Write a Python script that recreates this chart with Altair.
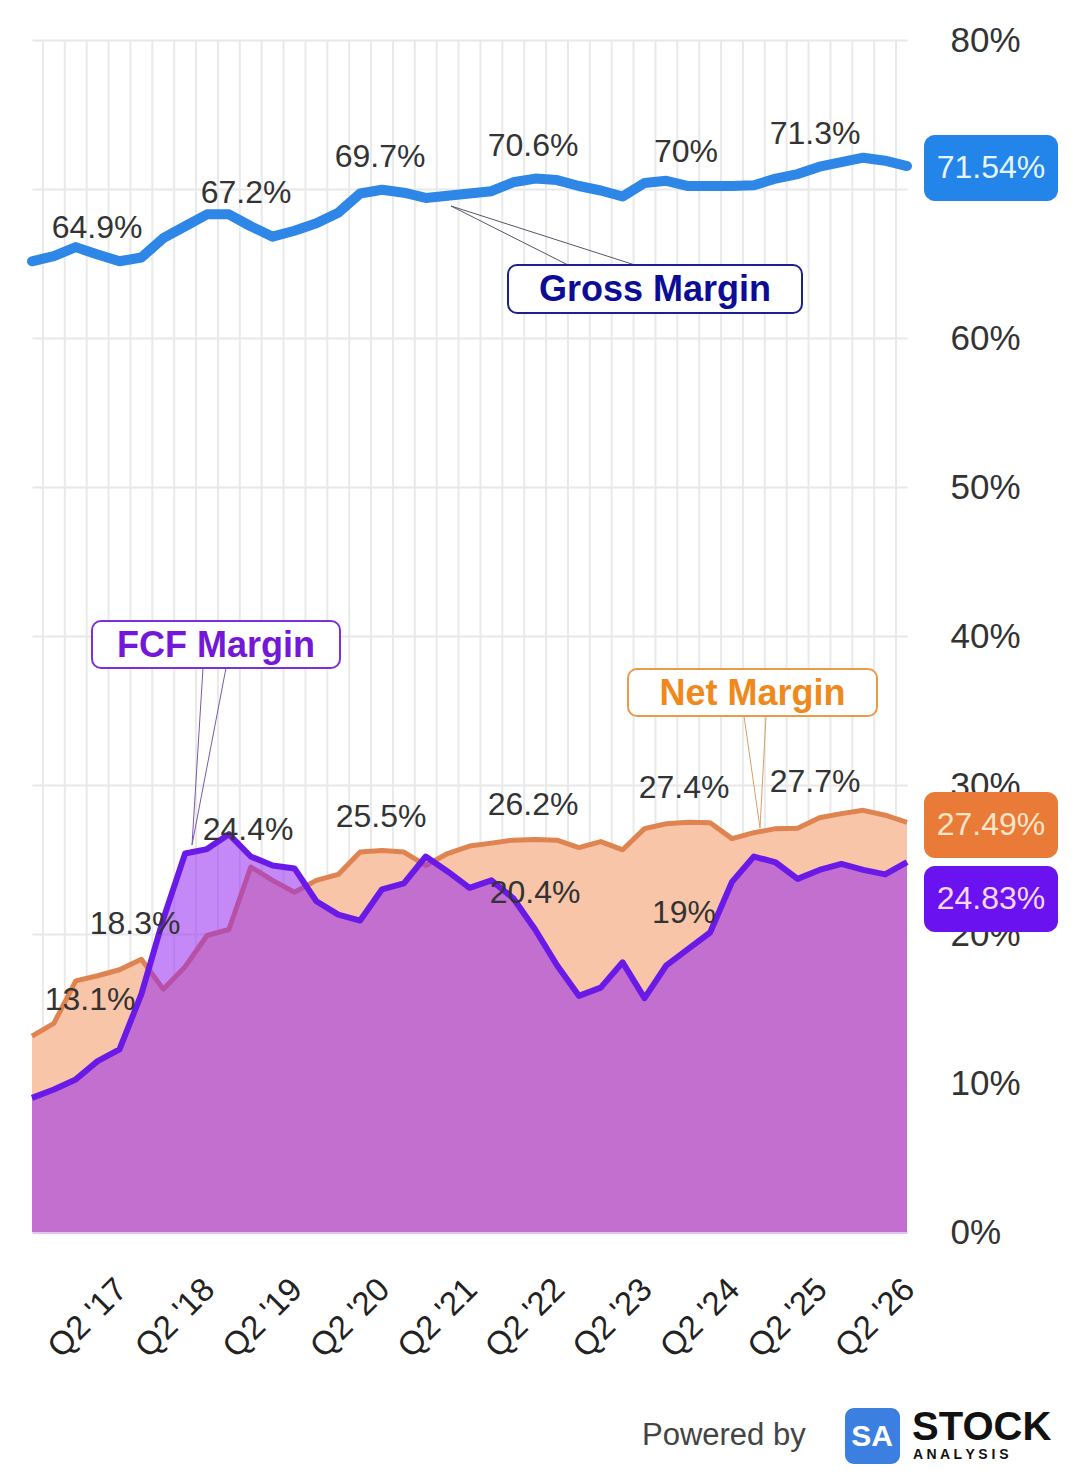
import json
import altair as alt
import pandas as pd

# ---------------- data ----------------
quarters = [f"Q{q} '{y}" for y in range(16, 27) for q in (1, 2, 3, 4)][1:42]  # Q2 '16 .. Q2 '26
tick_labels = ["Q2 '17", "Q2 '18", "Q2 '19", "Q2 '20", "Q2 '21",
               "Q2 '22", "Q2 '23", "Q2 '24", "Q2 '25", "Q2 '26"]

gross_margin = [65.15, 65.5, 66.1, 65.6, 65.15, 65.4, 66.7, 67.5, 68.3, 68.3,
                67.5, 66.8, 67.2, 67.7, 68.4, 69.7, 69.95, 69.75, 69.4, 69.55,
                69.7, 69.85, 70.45, 70.7, 70.6, 70.2, 69.9, 69.5, 70.4, 70.55,
                70.2, 70.2, 70.2, 70.25, 70.7, 71.0, 71.5, 71.8, 72.1, 71.9, 71.54]
net_margin = [13.15, 14.0, 16.85, 17.2, 17.6, 18.3, 16.3, 17.8, 19.9, 20.3,
              24.5, 23.6, 22.8, 23.6, 24.0, 25.5, 25.6, 25.5, 24.6, 25.4,
              25.9, 26.1, 26.3, 26.35, 26.3, 25.8, 26.2, 25.65, 27.07, 27.4,
              27.5, 27.47, 26.4, 26.8, 27.07, 27.1, 27.8, 28.08, 28.3, 27.97, 27.49]
fcf_margin = [9.0, 9.56, 10.24, 11.47, 12.26, 15.96, 21.0, 25.4, 25.7, 26.7,
              25.2, 24.6, 24.4, 22.2, 21.3, 20.9, 23.0, 23.4, 25.2, 24.2,
              23.1, 23.6, 22.4, 20.3, 17.9, 15.85, 16.4, 18.1, 15.7, 17.9,
              19.0, 20.1, 23.5, 25.2, 24.8, 23.7, 24.3, 24.7, 24.3, 24.0, 24.83]

value_labels = ["64.9%", "67.2%", "69.7%", "70.6%", "70%", "71.3%",
                "13.1%", "18.3%", "24.4%", "25.5%", "26.2%", "20.4%", "27.4%", "19%", "27.7%"]
callout_texts = ["Gross Margin", "FCF Margin", "Net Margin"]
badge_texts = ["71.54%", "27.49%", "24.83%"]
y_ticks = [0, 10, 20, 30, 40, 50, 60, 70, 80]
y_hidden = [70]  # covered by the 71.54% badge in the reference

# ---------------- layout (pixels inside the plot area) ----------------
W, H = 875, 1192
XMAX = len(quarters) - 1
YMAX = 80


def fx(px):
    return px / W * XMAX


def fy(py):
    return YMAX - py / H * YMAX


label_px = [(65, 188), (214, 153), (348, 117), (501, 106), (654, 112), (783, 94),
            (58, 960), (103, 884), (216, 790), (349, 777), (501, 765), (503, 853),
            (652, 748), (652, 873), (783, 742)]

callout_boxes = [(476, 225, 770, 273), (60, 581, 308, 628), (596, 629, 845, 676)]
callout_stroke = ["#1b1f8f", "#7b2fe0", "#eb9a4a"]
callout_color = ["#0c0c96", "#7417d8", "#f0891c"]
pointer_px = [  # apex, base1, base2
    ((419, 166), (536, 225), (603, 225)),
    ((160, 805), (171, 628), (194, 628)),
    ((728, 788), (712, 676), (734, 676)),
]
pointer_color = ["#555566", "#7a5aa8", "#d9a06a"]

badge_boxes = [(892, 95, 1026, 161), (892, 752, 1026, 818), (892, 826, 1026, 892)]
badge_fill = ["#2384ea", "#ea7a38", "#6a12ef"]
badge_text_color = ["#e6f6ff", "#fbe6c8", "#f7d8f6"]

# ---------------- frames ----------------
df = pd.DataFrame({"i": list(range(len(quarters))), "q": quarters,
                   "gross": gross_margin, "net": net_margin, "fcf": fcf_margin})
grid_df = pd.DataFrame({"i": [k + 0.5 for k in range(XMAX)]})
lab_df = pd.DataFrame({"t": value_labels,
                       "i": [fx(p[0]) for p in label_px],
                       "v": [fy(p[1]) for p in label_px]})
box_df = pd.DataFrame({"i": [fx(b[0]) for b in callout_boxes], "i2": [fx(b[2]) for b in callout_boxes],
                       "v": [fy(b[1]) for b in callout_boxes], "v2": [fy(b[3]) for b in callout_boxes],
                       "stroke": callout_stroke})
box_txt_df = pd.DataFrame({"t": callout_texts,
                           "i": [fx((b[0] + b[2]) / 2) for b in callout_boxes],
                           "v": [fy((b[1] + b[3]) / 2 + 1) for b in callout_boxes],
                           "c": callout_color})
ptr_rows = []
for (ap, b1, b2), col in zip(pointer_px, pointer_color):
    for b in (b1, b2):
        ptr_rows.append({"i": fx(ap[0]), "v": fy(ap[1]), "i2": fx(b[0]), "v2": fy(b[1]), "c": col})
ptr_df = pd.DataFrame(ptr_rows)
badge_df = pd.DataFrame({"i": [fx(b[0]) for b in badge_boxes], "i2": [fx(b[2]) for b in badge_boxes],
                         "v": [fy(b[1]) for b in badge_boxes], "v2": [fy(b[3]) for b in badge_boxes],
                         "c": badge_fill, "t": badge_texts, "tc": badge_text_color,
                         "ic": [fx((b[0] + b[2]) / 2) for b in badge_boxes],
                         "vc": [fy((b[1] + b[3]) / 2) for b in badge_boxes]})

FONT = "Liberation Sans"

xscale = alt.Scale(domain=[0, XMAX], nice=False, zero=False)
yscale = alt.Scale(domain=[0, YMAX], nice=False)
xaxis = alt.Axis(values=[quarters.index(t) for t in tick_labels],
                 labelExpr=f"{json.dumps(tick_labels)}[round((datum.value-4)/4)]",
                 title=None, grid=False, ticks=False, domain=True, domainColor="#e2c4f2", domainWidth=3,
                 labelAngle=315, labelAlign="right", labelBaseline="middle", labelOverlap=False,
                 labelFontSize=33, labelFont=FONT, labelColor="#222", labelPadding=52, labelOffset=2)
yaxis = alt.Axis(values=y_ticks,
                 labelExpr=f"indexof({json.dumps(y_hidden)}, datum.value) >= 0 ? '' : datum.value + '%'",
                 orient="right",
                 title=None, grid=True, gridColor="#e8e8e8", gridWidth=2, ticks=False, domain=False,
                 labelFontSize=35, labelFont=FONT, labelColor="#333", labelPadding=43)


def X(f):
    return alt.X(f"{f}:Q", scale=xscale, axis=xaxis)


def Y(f):
    return alt.Y(f"{f}:Q", scale=yscale, axis=yaxis)


grid = alt.Chart(grid_df).mark_rule(color="#e9e9e9", strokeWidth=2).encode(
    x=X("i"), y=alt.datum(0), y2=alt.datum(YMAX))

net_area = alt.Chart(df).mark_area(color="#f8c5a8").encode(x=X("i"), y=Y("net"))
net_line = alt.Chart(df).mark_line(color="#df8350", strokeWidth=5, strokeJoin="round").encode(
    x=X("i"), y=Y("net"))
fcf_area = alt.Chart(df).mark_area(color="rgb(150,40,240)", fillOpacity=0.55).encode(
    x=X("i"), y=Y("fcf"))
fcf_line = alt.Chart(df).mark_line(color="#6a1ae6", strokeWidth=6, strokeJoin="round").encode(
    x=X("i"), y=Y("fcf"))
gross_line = alt.Chart(df).mark_line(color="#2e86e6", strokeWidth=10, strokeJoin="round",
                                     strokeCap="round").encode(x=X("i"), y=Y("gross"))

labels = alt.Chart(lab_df).mark_text(font=FONT, fontSize=32, color="#333", align="center",
                                     baseline="middle").encode(x=X("i"), y=Y("v"), text="t:N")

pointers = alt.Chart(ptr_df).mark_rule(strokeWidth=1).encode(
    x=X("i"), y=Y("v"), x2="i2:Q", y2="v2:Q", color=alt.Color("c:N", scale=None))
boxes = alt.Chart(box_df).mark_rect(fill="white", strokeWidth=2, cornerRadius=9).encode(
    x=X("i"), x2="i2:Q", y=Y("v"), y2="v2:Q", stroke=alt.Stroke("stroke:N", scale=None))
box_txt = alt.Chart(box_txt_df).mark_text(font=FONT, fontSize=36, fontWeight="bold",
                                          align="center", baseline="middle").encode(
    x=X("i"), y=Y("v"), text="t:N", color=alt.Color("c:N", scale=None))

badges = alt.Chart(badge_df).mark_rect(cornerRadius=11).encode(
    x=X("i"), x2="i2:Q", y=Y("v"), y2="v2:Q", fill=alt.Fill("c:N", scale=None))
badge_txt = alt.Chart(badge_df).mark_text(font=FONT, fontSize=32, align="center",
                                          baseline="middle").encode(
    x=X("ic"), y=Y("vc"), text="t:N", color=alt.Color("tc:N", scale=None))

# footer
footer_df = pd.DataFrame({"t": ["Powered by"], "i": [fx(610)], "v": [fy(1396)]})
powered = alt.Chart(footer_df).mark_text(font=FONT, fontSize=31, color="#444", align="left",
                                         baseline="middle").encode(x=X("i"), y=Y("v"), text="t:N")
logo_df = pd.DataFrame({"i": [fx(813)], "i2": [fx(868)], "v": [fy(1368)], "v2": [fy(1424)]})
logo = alt.Chart(logo_df).mark_rect(fill="#3b7fe0", cornerRadius=9).encode(
    x=X("i"), x2="i2:Q", y=Y("v"), y2="v2:Q")
logo_txt_df = pd.DataFrame({"t": ["SA"], "i": [fx(840)], "v": [fy(1397)]})
logo_txt = alt.Chart(logo_txt_df).mark_text(font=FONT, fontSize=30, fontWeight="bold", color="white",
                                            align="center", baseline="middle").encode(
    x=X("i"), y=Y("v"), text="t:N")
stock_df = pd.DataFrame({"t": ["STOCK"], "i": [fx(880)], "v": [fy(1388)]})
stock = alt.Chart(stock_df).mark_text(font=FONT, fontSize=40, fontWeight="bold", color="#111",
                                      align="left", baseline="middle").encode(
    x=X("i"), y=Y("v"), text="t:N")
anal_df = pd.DataFrame({"t": ["A N A L Y S I S"], "i": [fx(881)], "v": [fy(1415)]})
anal = alt.Chart(anal_df).mark_text(font=FONT, fontSize=14, fontWeight="bold", color="#111",
                                    align="left", baseline="middle").encode(
    x=X("i"), y=Y("v"), text="t:N")

chart = alt.layer(
    grid, net_area, net_line, fcf_area, fcf_line, gross_line,
    labels, pointers, boxes, box_txt, badges, badge_txt,
    powered, logo, logo_txt, stock, anal,
).properties(
    width=W, height=H,
    autosize=alt.AutoSizeParams(type="none"),
    padding={"left": 24, "top": 32, "right": 153, "bottom": 238},
    background="white",
).configure_view(stroke=None)

chart.save("out.html", embed_options={"renderer": "svg", "actions": False})
